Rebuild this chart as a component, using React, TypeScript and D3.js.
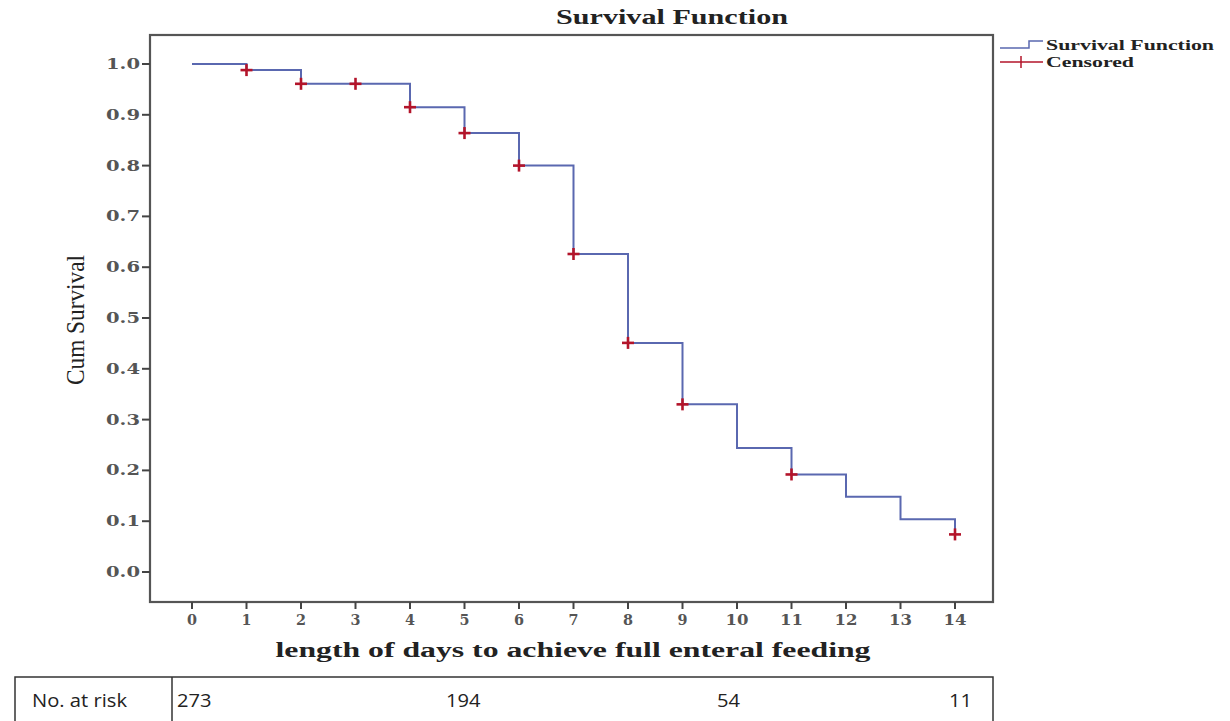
import React from 'react';
import * as d3 from 'd3';

// Kaplan-Meier estimates
const stepDays = [0, 1, 2, 3, 4, 5, 6, 7, 8, 9, 10, 11, 12, 13, 14];
const survival = [1.0, 0.988, 0.961, 0.961, 0.915, 0.864, 0.8, 0.626, 0.451, 0.33, 0.244, 0.192, 0.148, 0.104, 0.074];
const censoredDays = [1, 2, 3, 4, 5, 6, 7, 8, 9, 11, 14];
const xTicks = d3.range(0, 15);
const yTicks = [0, 0.1, 0.2, 0.3, 0.4, 0.5, 0.6, 0.7, 0.8, 0.9, 1.0];
const riskLabels = ['273', '194', '54', '11'];
const riskPositions = [177, 446, 717, 949];

const W = 1230;
const H = 721;
const frame = { left: 150, top: 35, right: 993, bottom: 602 };

const App: React.FC = () => {
  const x = d3.scaleLinear().domain([0, 14]).range([192, 955]);
  const y = d3.scaleLinear().domain([0, 1]).range([572, 64]);

  // build step path
  const pts: [number, number][] = [];
  stepDays.forEach((d, i) => {
    if (i > 0) pts.push([d, survival[i - 1]]);
    pts.push([d, survival[i]]);
  });
  const line = d3.line<[number, number]>()
    .x((p) => x(p[0]))
    .y((p) => y(p[1]));

  const serifTick = '"DejaVu Serif", serif';
  const titleFont = '"Liberation Serif", "Times New Roman", serif';
  const tableFont = '"Open Sans", sans-serif';

  return (
    <svg width={W} height={H} style={{ position: 'absolute', left: 0, top: 0, background: '#fff' }}>
      <rect width={W} height={H} fill="#fff" />
      <text x={672} y={24} textAnchor="middle" fontFamily={titleFont} fontWeight="bold" fontSize={20} fill="#222"
        textLength={232} lengthAdjust="spacingAndGlyphs">
        Survival Function
      </text>

      {/* plot frame */}
      <rect x={frame.left} y={frame.top} width={frame.right - frame.left} height={frame.bottom - frame.top}
        fill="none" stroke="#555" strokeWidth={2.2} />

      {/* y axis */}
      {yTicks.map((t) => (
        <g key={t}>
          <line x1={frame.left - 8} x2={frame.left} y1={y(t)} y2={y(t)} stroke="#444" strokeWidth={2} />
          <text x={frame.left - 10} y={y(t) + 5} textAnchor="end" fontFamily={serifTick} fontSize={15}
            fontWeight={600} fill="#555" textLength={34} lengthAdjust="spacingAndGlyphs">
            {t.toFixed(1)}
          </text>
        </g>
      ))}
      <text transform={`translate(84,320) rotate(-90)`} textAnchor="middle"
        fontFamily={titleFont} fontSize={26} fill="#222" textLength={130} lengthAdjust="spacingAndGlyphs">
        Cum Survival
      </text>

      {/* x axis */}
      {xTicks.map((t) => (
        <g key={t}>
          <line x1={x(t)} x2={x(t)} y1={frame.bottom} y2={frame.bottom + 7} stroke="#444" strokeWidth={2} />
          <text x={x(t)} y={frame.bottom + 23} textAnchor="middle" fontFamily={serifTick} fontSize={15}
            fontWeight={600} fill="#555" textLength={t < 10 ? 10 : 23} lengthAdjust="spacingAndGlyphs">
            {t}
          </text>
        </g>
      ))}
      <text x={573} y={657} textAnchor="middle" fontFamily={titleFont} fontWeight="bold" fontSize={20} fill="#222"
        textLength={595} lengthAdjust="spacingAndGlyphs">
        length of days to achieve full enteral feeding
      </text>

      {/* survival curve */}
      <path d={line(pts) || ''} fill="none" stroke="#5a68b0" strokeWidth={2} />

      {/* censored marks */}
      {censoredDays.map((d) => {
        const v = survival[stepDays.indexOf(d)];
        return (
          <g key={d} stroke="#b3142a" strokeWidth={2.6}>
            <line x1={x(d) - 6} x2={x(d) + 6} y1={y(v)} y2={y(v)} />
            <line x1={x(d)} x2={x(d)} y1={y(v) - 6} y2={y(v) + 6} />
          </g>
        );
      })}

      {/* legend */}
      <g>
        <path d="M1000,48 H1029 V41 H1043" fill="none" stroke="#5a68b0" strokeWidth={1.5} />
        <line x1={1000} x2={1043} y1={62} y2={62} stroke="#b3142a" strokeWidth={1.5} />
        <line x1={1021} x2={1021} y1={56} y2={68} stroke="#b3142a" strokeWidth={1.5} />
        <text x={1046} y={50} fontFamily={titleFont} fontWeight="bold" fontSize={15} fill="#222"
          textLength={168} lengthAdjust="spacingAndGlyphs">Survival Function</text>
        <text x={1046} y={67} fontFamily={titleFont} fontWeight="bold" fontSize={15} fill="#222"
          textLength={88} lengthAdjust="spacingAndGlyphs">Censored</text>
      </g>

      {/* number at risk table */}
      <g>
        <rect x={15} y={677} width={978} height={46} fill="none" stroke="#333" strokeWidth={1.5} />
        <line x1={172} x2={172} y1={677} y2={721} stroke="#333" strokeWidth={1.5} />
        <text x={32} y={707} fontFamily={tableFont} fontSize={19} fill="#222"
          textLength={95} lengthAdjust="spacingAndGlyphs">
          No. at risk
        </text>
        {riskLabels.map((r, i) => (
          <text key={r} x={riskPositions[i]} y={707} fontFamily={tableFont}
            fontSize={19} fill="#222" textLength={r.length * 11.5} lengthAdjust="spacingAndGlyphs">
            {r}
          </text>
        ))}
      </g>
    </svg>
  );
};

export default App;
